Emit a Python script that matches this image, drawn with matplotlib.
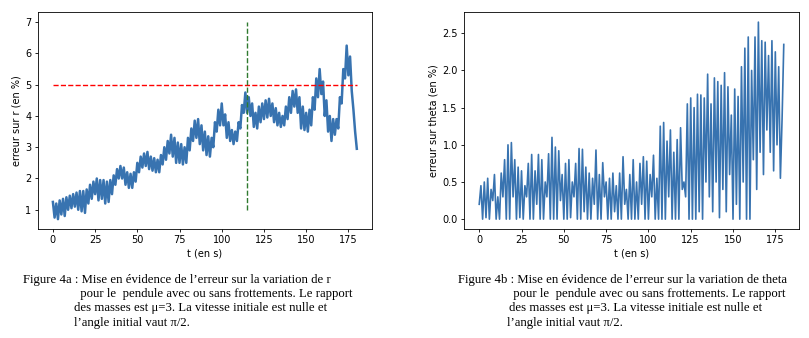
import numpy as np
import matplotlib
matplotlib.use("Agg")
import matplotlib.pyplot as plt

# fig 4a : erreur sur r, pics (t pairs) et creux (t impairs)
r_hi = [1.25, 1.2, 1.3, 1.35, 1.4, 1.45, 1.5, 1.55, 1.6, 1.6,
        1.65, 1.8, 1.9, 2.0, 1.95, 1.95, 1.9, 1.95, 2.1, 2.3,
        2.4, 2.35, 2.2, 2.15, 2.2, 2.5, 2.7, 2.8, 2.85, 2.7,
        2.65, 2.6, 2.75, 3.0, 3.2, 3.4, 3.3, 3.15, 3.1, 3.0,
        3.3, 3.6, 3.85, 3.9, 3.7, 3.5, 3.35, 3.3, 3.8, 4.2,
        4.4, 4.05, 3.8, 3.55, 3.5, 3.8, 4.35, 4.75, 4.6, 4.4,
        4.1, 4.3, 4.4, 4.5, 4.55, 4.4, 4.25, 4.1, 4.0, 4.3,
        4.6, 4.8, 4.85, 4.6, 4.3, 4.1, 4.2, 4.6, 5.2, 5.5,
        5.1, 4.5, 4.0, 3.9, 3.9, 4.6, 5.5, 6.25, 5.9, 4.2,
        2.95]
r_lo = [0.75, 0.7, 0.85, 0.8, 1.0, 1.05, 1.1, 1.0, 0.95, 0.9,
        1.2, 1.35, 1.5, 1.3, 1.35, 1.2, 1.25, 1.5, 1.8, 2.0,
        2.0, 1.8, 1.7, 1.7, 1.9, 2.2, 2.35, 2.4, 2.3, 2.25,
        2.2, 2.2, 2.45, 2.6, 2.8, 2.7, 2.5, 2.5, 2.45, 2.5,
        2.9, 3.2, 3.3, 3.1, 2.9, 2.75, 2.7, 3.0, 3.5, 3.7,
        3.7, 3.3, 3.2, 3.1, 3.2, 3.6, 4.1, 4.1, 4.0, 3.65,
        3.6, 3.8, 3.9, 3.95, 4.0, 3.8, 3.7, 3.65, 3.7, 3.9,
        4.1, 4.3, 4.1, 3.6, 3.55, 3.5, 3.7, 4.2, 4.6, 4.7,
        4.0, 3.5, 3.2, 3.4, 3.6, 4.4, 5.2, 5.3, 4.8, 3.5]

# fig 4b : erreur sur theta, creux (t pairs) et pics (t impairs)
th_lo = [0.2, 0.0, 0.02, 0.0, 0.25, 0.0, 0.0, 0.3, 0.0, 0.0,
         0.3, 0.0, 0.02, 0.0, 0.3, 0.0, 0.0, 0.2, 0.0, 0.0,
         0.3, 0.0, 0.0, 0.0, 0.25, 0.0, 0.0, 0.02, 0.3, 0.0,
         0.0, 0.1, 0.0, 0.0, 0.2, 0.0, 0.0, 0.3, 0.0, 0.0,
         0.1, 0.0, 0.0, 0.2, 0.0, 0.0, 0.0, 0.0, 0.2, 0.0,
         0.0, 0.3, 0.0, 0.0, 0.0, 0.0, 0.3, 0.0, 0.0, 0.0,
         0.4, 0.3, 0.0, 0.0, 0.0, 0.1, 0.0, 0.5, 0.3, 0.1,
         0.5, 0.02, 0.4, 0.1, 0.6, 0.0, 0.2, 0.0, 0.5, 0.0,
         0.0, 0.8, 0.4, 0.9, 0.6, 1.2, 0.9, 0.65, 1.0, 0.55,
         2.35]
th_hi = [0.45, 0.5, 0.55, 0.4, 0.6, 0.3, 0.62, 0.8, 1.0, 1.03,
         0.8, 0.7, 0.65, 0.45, 0.75, 0.87, 0.65, 0.87, 0.8, 0.5,
         0.88, 1.1, 0.97, 0.92, 0.6, 0.75, 0.8, 0.5, 0.75, 0.95,
         0.94, 0.7, 0.62, 0.55, 0.93, 0.6, 0.76, 0.5, 0.55, 0.62,
         0.45, 0.62, 0.84, 0.4, 0.6, 0.8, 0.5, 0.75, 0.84, 0.78,
         0.6, 0.86, 0.55, 1.25, 1.3, 1.05, 1.2, 0.9, 1.07, 1.23,
         0.5, 1.55, 1.63, 1.5, 1.68, 1.67, 1.63, 1.95, 1.55, 1.9,
         1.85, 1.8, 1.97, 1.78, 1.4, 1.75, 1.65, 2.05, 2.3, 2.45,
         2.0, 2.45, 2.65, 2.4, 2.38, 2.2, 2.4, 2.25, 2.05, 1.35]

t = np.arange(181)

err_r = np.empty(181)
err_r[0::2] = r_hi
err_r[1::2] = r_lo

err_theta = np.empty(181)
err_theta[0::2] = th_lo
err_theta[1::2] = th_hi

t_limite = 115
seuil = 5

caption_a = ["Figure 4a : Mise en évidence de l\u2019erreur sur la variation de r",
             " pour le  pendule avec ou sans frottements. Le rapport",
             "des masses est \u03bc=3. La vitesse initiale est nulle et",
             "l\u2019angle initial vaut \u03c0/2."]
caption_b = ["Figure 4b : Mise en évidence de l\u2019erreur sur la variation de theta",
             " pour le  pendule avec ou sans frottements. Le rapport",
             "des masses est \u03bc=3. La vitesse initiale est nulle et",
             "l\u2019angle initial vaut \u03c0/2."]

blue = '#3873b0'


def style_axes(ax):
    ax.tick_params(labelsize=7, length=2.5, width=0.6, pad=2)
    for s in ax.spines.values():
        s.set_linewidth(0.6)


def main():
    W, H = 809, 338
    fig = plt.figure(figsize=(W / 100, H / 100), dpi=100)

    ax1 = fig.add_axes([37.7 / W, 1 - 229 / H, 334.3 / W, 216.7 / H])
    ax1.plot(t, err_r, color=blue, lw=1.8)
    ax1.plot([0, 180], [seuil, seuil], '--', color='red', lw=1.0)
    ax1.plot([t_limite, t_limite], [1, 7], '--', color='#2f7a2f', lw=1.0)
    ax1.set_xticks([0, 25, 50, 75, 100, 125, 150, 175])
    ax1.set_xlabel("t (en s)", fontsize=7, labelpad=2)
    ax1.set_ylabel("erreur sur r (en %)", fontsize=7, labelpad=3)
    style_axes(ax1)

    ax2 = fig.add_axes([464 / W, 1 - 229 / H, 335 / W, 216.7 / H])
    ax2.plot(t, err_theta, color=blue, lw=1.2)
    ax2.set_xticks([0, 25, 50, 75, 100, 125, 150, 175])
    ax2.set_yticks([0.0, 0.5, 1.0, 1.5, 2.0, 2.5])
    ax2.set_xlabel("t (en s)", fontsize=7, labelpad=2)
    ax2.set_ylabel("erreur sur theta (en %)", fontsize=7, labelpad=3)
    style_axes(ax2)

    ys = [280, 294.5, 308.5, 323]
    xa = [23, 77, 74, 74]
    xb = [458, 510, 509, 507]
    for i in range(4):
        fig.text(xa[i] / W, 1 - ys[i] / H, caption_a[i], family='Liberation Serif',
                 fontsize=9.2, va='center', ha='left')
        fig.text(xb[i] / W, 1 - ys[i] / H, caption_b[i], family='Liberation Serif',
                 fontsize=9.2, va='center', ha='left')

    fig.savefig("out.png", dpi=100)


if __name__ == '__main__':
    main()
